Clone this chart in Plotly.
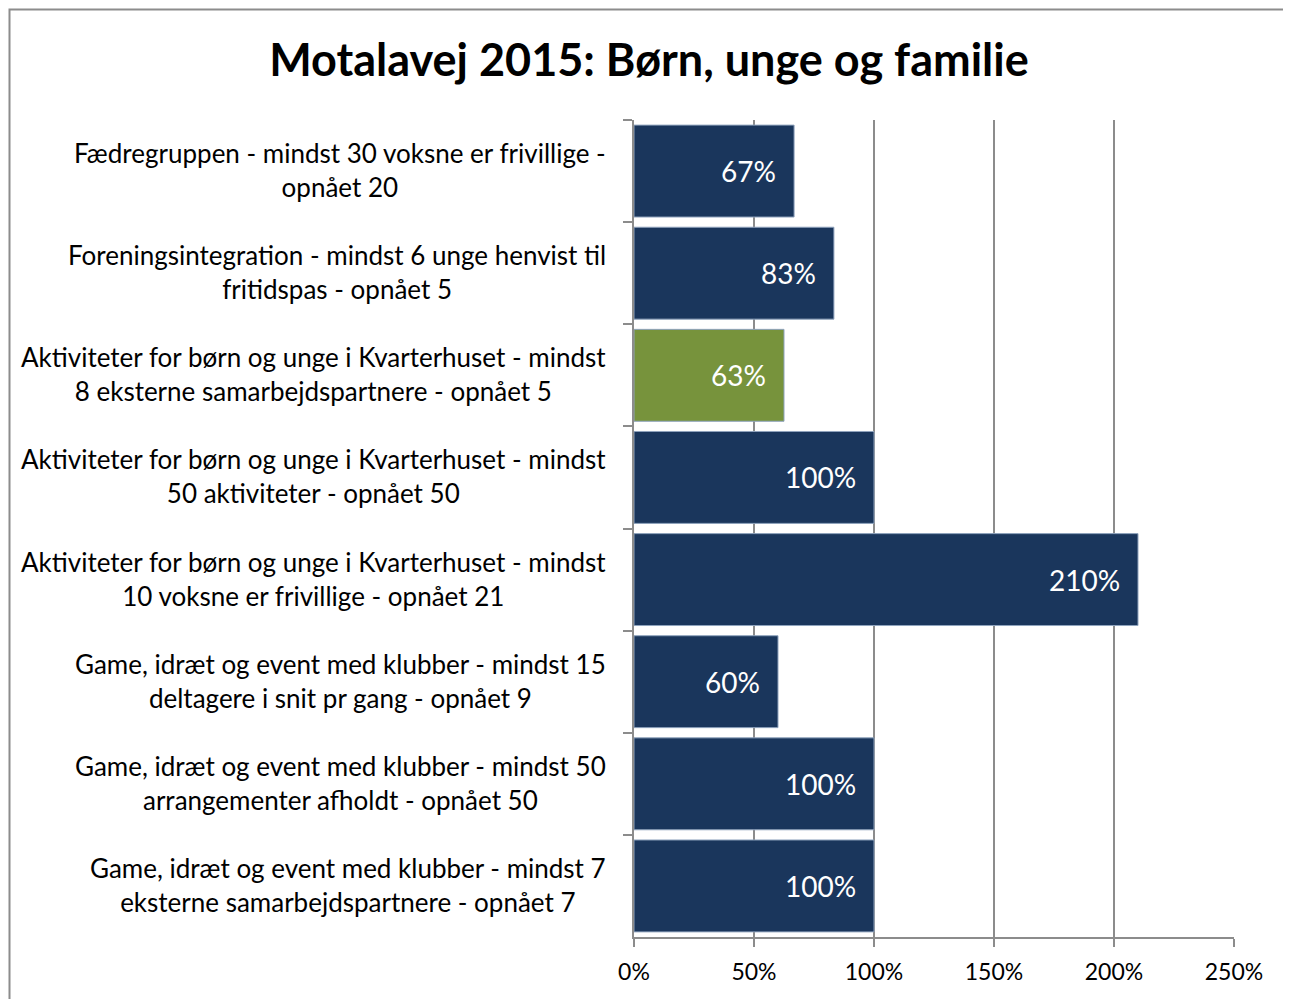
import plotly.graph_objects as go

categories = [
    "Fædregruppen - mindst 30 voksne er frivillige -<br>opnået 20",
    "Foreningsintegration - mindst 6 unge henvist til<br>fritidspas - opnået 5",
    "Aktiviteter for børn og unge i Kvarterhuset - mindst<br>8 eksterne samarbejdspartnere - opnået 5",
    "Aktiviteter for børn og unge i Kvarterhuset - mindst<br>50 aktiviteter - opnået 50",
    "Aktiviteter for børn og unge i Kvarterhuset - mindst<br>10 voksne er frivillige - opnået 21",
    "Game, idræt og event med klubber - mindst 15<br>deltagere i snit pr gang - opnået 9",
    "Game, idræt og event med klubber - mindst 50<br>arrangementer afholdt - opnået 50",
    "Game, idræt og event med klubber - mindst 7<br>eksterne samarbejdspartnere - opnået 7",
]
values = [0.667, 0.833, 0.625, 1.0, 2.1, 0.6, 1.0, 1.0]
value_labels = ["67%", "83%", "63%", "100%", "210%", "60%", "100%", "100%"]
colors = ["#1A365C", "#1A365C", "#77933C", "#1A365C", "#1A365C", "#1A365C", "#1A365C", "#1A365C"]
x_ticks = [0, 0.5, 1.0, 1.5, 2.0, 2.5]
x_tick_labels = ["0%", "50%", "100%", "150%", "200%", "250%"]

FONT = "Lato"

fig = go.Figure()
fig.add_trace(go.Bar(
    x=values, y=categories, orientation="h",
    marker=dict(color=colors, line=dict(color="#8FA3BD", width=1)),
    width=0.9, hoverinfo="skip",
))

annotations = []
for cat, v, lab in zip(categories, values, value_labels):
    annotations.append(dict(
        x=v, y=cat, xref="x", yref="y", text=lab, showarrow=False,
        xanchor="right", xshift=-16, yshift=0,
        font=dict(family=FONT, size=28, color="white"),
    ))
    annotations.append(dict(
        x=0, y=cat, xref="paper", yref="y", text=cat, showarrow=False,
        xanchor="right", align="center", xshift=-26, yshift=1,
        font=dict(family=FONT, size=26, color="black"),
    ))

fig.update_layout(
    width=1283, height=991,
    margin=dict(l=626, r=57, t=112, b=62),
    paper_bgcolor="white", plot_bgcolor="white",
    title=dict(text="<b>Motalavej 2015: Børn, unge og familie</b>",
               x=(649 - 8) / 1283, xanchor="center", xref="container",
               y=1 - (52 / 991), yanchor="middle", yref="container",
               font=dict(family=FONT, size=45, color="black")),
    showlegend=False,
    bargap=0.1,
    annotations=annotations,
    xaxis=dict(range=[0, 2.5], tickvals=x_ticks, ticktext=x_tick_labels,
               showgrid=True, gridcolor="#8C8C8C", gridwidth=1.5,
               showline=True, linecolor="#8C8C8C", linewidth=1.5,
               ticks="outside", ticklen=8, tickcolor="#8C8C8C", tickwidth=1.5,
               ticklabelstandoff=6,
               tickfont=dict(family=FONT, size=23, color="black"),
               zeroline=False, fixedrange=True),
    yaxis=dict(categoryorder="array", categoryarray=categories,
               autorange="reversed", showticklabels=False,
               showline=True, linecolor="#8C8C8C", linewidth=1.5,
               ticks="outside", ticklen=9, tickcolor="#8C8C8C", tickwidth=1.5,
               tickson="boundaries", showgrid=False, zeroline=False),
    shapes=[dict(type="rect", xref="paper", yref="paper",
                 x0=(9.5 - 634) / 600, x1=(1320 - 634) / 600,
                 y0=-(1030 - 937) / 817, y1=(937 - 9.5) / 817,
                 line=dict(color="#8C8C8C", width=2), layer="below")],
)

fig.write_html("out.html")
